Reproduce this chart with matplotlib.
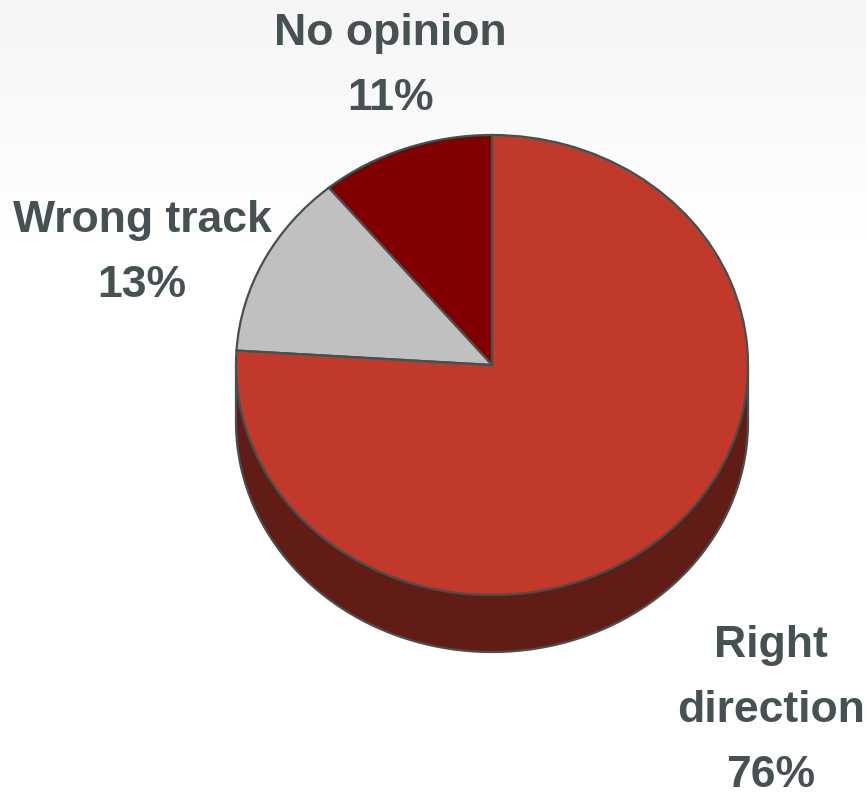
import numpy as np
import matplotlib
matplotlib.use("Agg")
import matplotlib.pyplot as plt

plt.rcParams['font.family'] = ['Liberation Sans', 'DejaVu Sans']

labels = ["No opinion", "Wrong track", "Right direction"]
values = [11, 13, 76]
colors = ["#800000", "#C0C0C0", "#C0392A"]
side_color = "#611C15"
edge_color = "#44514F"
text_color = "#465153"

# pie geometry in pixels (top ellipse)
cx, cy = 492, 365
rx, ry = 256, 230
depth = 57
W, H = 866, 795

fig = plt.figure(figsize=(W / 100, H / 100), dpi=100)
ax = fig.add_axes([0, 0, 1, 1])

xlim = (-cx / rx, (W - cx) / rx)
ylim = (-(H - cy) / ry, cy / ry)

# faint grey wash at the top of the slide
grad = np.linspace(0, 1, 400)[:, None]
bg = np.ones((400, 2, 3)) * (0.962 + 0.038 * grad)[:, :, None]
ax.imshow(bg, aspect='auto', interpolation='bilinear',
          extent=(xlim[0], xlim[1], ylim[1] - 240 / ry, ylim[1]), zorder=0)

# side of the cylinder (front half only, all belongs to "Right direction")
d = depth / ry
t = np.linspace(np.pi, 2 * np.pi, 200)
xs = np.concatenate([np.cos(t), np.cos(t[::-1])])
ys = np.concatenate([np.sin(t), np.sin(t[::-1]) - d])
ax.fill(xs, ys, color=side_color, ec=edge_color, lw=1.6, zorder=1)

wedges, _ = ax.pie(values, colors=colors, startangle=90, counterclock=True,
                   radius=1, center=(0, 0), frame=True,
                   wedgeprops=dict(edgecolor=edge_color, linewidth=1.6))
for w in wedges:
    w.set_zorder(2)

ax.set_aspect('auto')
ax.set_xlim(*xlim)
ax.set_ylim(*ylim)
ax.axis('off')

# labels, one line at a time, baselines in pixels
def px(x, y):
    return (x - cx) / rx, (cy - y) / ry

label_lines = [["No opinion", "11%"],
               ["Wrong track", "13%"],
               ["Right", "direction", "76%"]]
label_x = [390, 142, 771]
label_y0 = [45, 232, 657]
step = 65
for lines, x, y0 in zip(label_lines, label_x, label_y0):
    for i, s in enumerate(lines):
        ax.text(*px(x, y0 + i * step), s, ha='center', va='baseline',
                fontsize=32, fontweight='bold', color=text_color, zorder=3)

fig.savefig("out.png", dpi=100, facecolor="white")
